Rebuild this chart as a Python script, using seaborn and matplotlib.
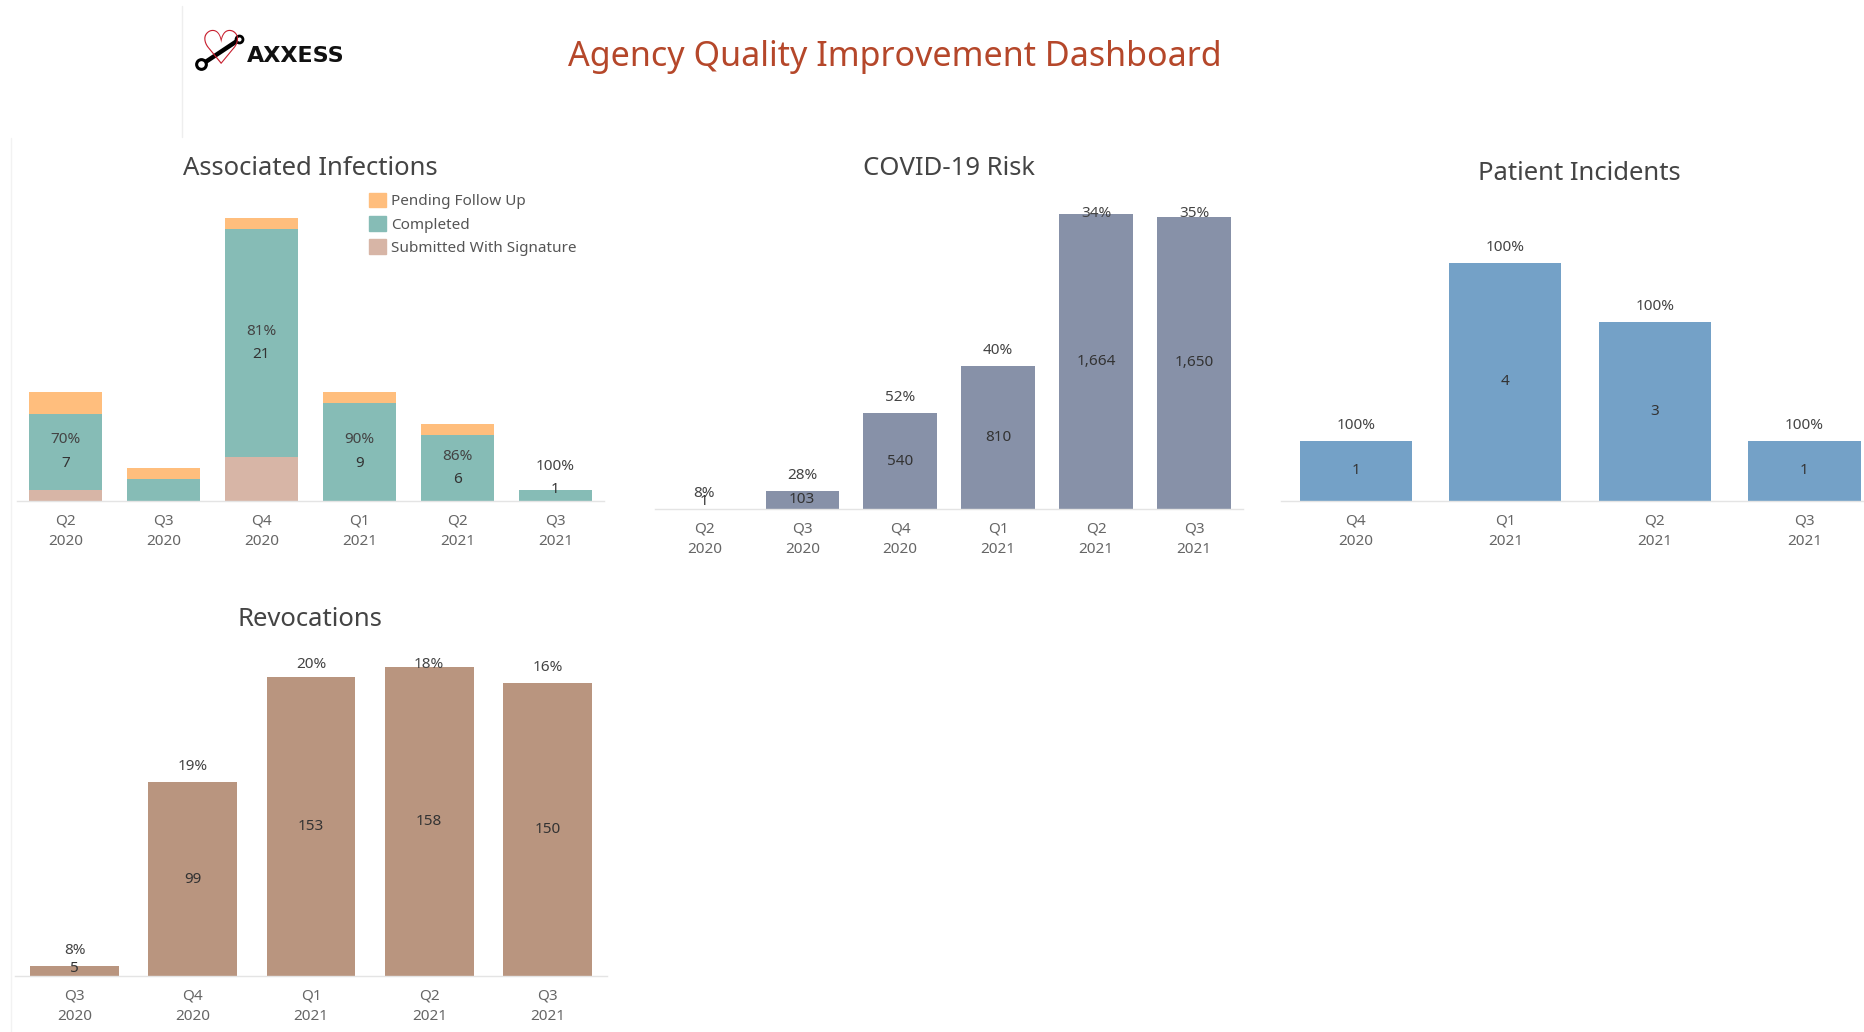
import matplotlib
matplotlib.use("Agg")
import matplotlib.pyplot as plt
from matplotlib.patches import Patch
from matplotlib.lines import Line2D
import seaborn as sns
import numpy as np

# ---------------- data ----------------
inf_quarters = ["Q2\n2020", "Q3\n2020", "Q4\n2020", "Q1\n2021", "Q2\n2021", "Q3\n2021"]
inf_submitted = [1, 0, 4, 0, 0, 0]
inf_completed = [7, 2, 21, 9, 6, 1]
inf_pending = [2, 1, 1, 1, 1, 0]
inf_pct = ["70%", "", "81%", "90%", "86%", "100%"]
inf_count_lbl = ["7", "", "21", "9", "6", "1"]

covid_quarters = ["Q2\n2020", "Q3\n2020", "Q4\n2020", "Q1\n2021", "Q2\n2021", "Q3\n2021"]
covid_values = [1, 103, 540, 810, 1664, 1650]
covid_pct = ["8%", "28%", "52%", "40%", "34%", "35%"]

pi_quarters = ["Q4\n2020", "Q1\n2021", "Q2\n2021", "Q3\n2021"]
pi_values = [1, 4, 3, 1]
pi_pct = ["100%", "100%", "100%", "100%"]

rev_quarters = ["Q3\n2020", "Q4\n2020", "Q1\n2021", "Q2\n2021", "Q3\n2021"]
rev_values = [5, 99, 153, 158, 150]
rev_pct = ["8%", "19%", "20%", "18%", "16%"]

# ---------------- style ----------------
sns.set_theme(style="white")
plt.rcParams["font.family"] = ["Noto Sans", "DejaVu Sans"]

C_PEND = "#ffbe7d"
C_COMP = "#86bcb6"
C_SUB = "#d7b5a6"
C_COVID = "#8791a8"
C_PI = "#74a1c7"
C_REV = "#b9957f"
TXT = "#333333"
TICK = "#666666"
LBL = 11

W, H = 1568.0, 868.0  # reference coordinate frame (scaled)
fig = plt.figure(figsize=(18.65, 10.32), dpi=100)
fig.patch.set_facecolor("white")


def rect(left, top, right, bottom):
    return [left / W, 1 - bottom / H, (right - left) / W, (bottom - top) / H]


def style_axis(ax, n):
    for s in ["top", "right", "left"]:
        ax.spines[s].set_visible(False)
    ax.spines["bottom"].set_color("#e4e4e4")
    ax.spines["bottom"].set_linewidth(1.0)
    ax.set_yticks([])
    ax.set_xlabel("")
    ax.set_ylabel("")
    ax.set_xlim(-0.5, n - 0.5)
    ax.set_xticks(np.arange(n) - 0.5, minor=True)
    ax.tick_params(axis="x", which="major", length=0, pad=9, labelsize=11,
                   labelcolor=TICK)
    ax.tick_params(axis="x", which="minor", length=5, color="#ececec", width=0.8)
    for lab in ax.get_xticklabels():
        lab.set_linespacing(1.5)
    ax.set_facecolor("none")


def pct_labels(ax, vals, pcts, ymax, axh):
    ppu = axh / ymax
    pad = 13.0 / ppu
    cap = ymax - 7.5 / ppu
    for i, (v, p) in enumerate(zip(vals, pcts)):
        ax.text(i, min(v + pad, cap), p, ha="center", va="center",
                fontsize=LBL, color="#444444")


def count_labels(ax, vals, ymax, axh, fmt="{:,}"):
    ppu = axh / ymax
    lo = 6.0 / ppu
    for i, v in enumerate(vals):
        ax.text(i, max(v / 2.0, lo), fmt.format(v), ha="center", va="center",
                fontsize=LBL, color=TXT)


# ---------------- header ----------------
fig.text(752 / W, 1 - 48 / H, "Agency Quality Improvement Dashboard",
         ha="center", va="center", fontsize=24.5, color="#b5472a")
fig.text(186 / W, 1 - 43 / H, "\u2661", ha="center", va="center", fontsize=34,
         color="#c8202f", family=["DejaVu Sans"], fontweight="bold")
fig.add_artist(Line2D([170 / W, 200 / W], [1 - 54 / H, 1 - 34 / H],
                      color="black", lw=3.2, solid_capstyle="round"))
fig.add_artist(Line2D([169 / W], [1 - 54 / H], marker="o", ms=7, mfc="white",
                      mec="black", mew=2.2, ls="none"))
fig.add_artist(Line2D([201 / W], [1 - 33 / H], marker="o", ms=5, mfc="white",
                      mec="black", mew=2, ls="none"))
fig.text(249 / W, 1 - 47 / H, "AXXESS", ha="center", va="center",
         fontsize=16, color="#111111", family=["DejaVu Sans"],
         fontweight="bold")
fig.add_artist(Line2D([153 / W, 153 / W], [1 - 5 / H, 1 - 115 / H],
                      color="#eeeeee", lw=1))
fig.add_artist(Line2D([9 / W, 9 / W], [1 - 116 / H, 0], color="#f2f2f2", lw=1))

# ---------------- Associated Infections ----------------
r = (14, 165, 508, 421)
ax1 = fig.add_axes(rect(*r))
ymax1 = 28
sub = np.array(inf_submitted)
comp = np.array(inf_completed)
pend = np.array(inf_pending)
sns.barplot(x=inf_quarters, y=sub + comp + pend, color=C_PEND, width=0.75,
            saturation=1, ax=ax1, linewidth=0)
sns.barplot(x=inf_quarters, y=sub + comp, color=C_COMP, width=0.75,
            saturation=1, ax=ax1, linewidth=0)
sns.barplot(x=inf_quarters, y=sub, color=C_SUB, width=0.75,
            saturation=1, ax=ax1, linewidth=0)
ax1.set_ylim(0, ymax1)
style_axis(ax1, len(inf_quarters))
axh = r[3] - r[1]
ppu = axh / ymax1
for i in range(len(inf_quarters)):
    if not inf_pct[i]:
        continue
    mid = max(sub[i] + comp[i] / 2.0, 19.0 / ppu)
    ax1.text(i, mid + 10.0 / ppu, inf_pct[i], ha="center", va="center",
             fontsize=LBL, color="#444444")
    ax1.text(i, mid - 10.0 / ppu, inf_count_lbl[i], ha="center", va="center",
             fontsize=LBL, color=TXT)
fig.text(261 / W, 1 - 142 / H, "Associated Infections", ha="center", va="center",
         fontsize=18.5, color="#444444")
handles = [Patch(color=C_PEND, label="Pending Follow Up"),
           Patch(color=C_COMP, label="Completed"),
           Patch(color=C_SUB, label="Submitted With Signature")]
fig.legend(handles=handles, loc="upper left",
           bbox_to_anchor=(310 / W, 1 - 162 / H), frameon=False, fontsize=11,
           handlelength=1.1, handleheight=1.1, handletextpad=0.35,
           labelspacing=0.45, borderpad=0, borderaxespad=0, labelcolor="#555555")

# ---------------- COVID-19 Risk ----------------
r = (551, 172, 1045, 428)
ax2 = fig.add_axes(rect(*r))
ymax2 = 1720
sns.barplot(x=covid_quarters, y=covid_values, color=C_COVID, width=0.75,
            saturation=1, ax=ax2, linewidth=0)
ax2.set_ylim(0, ymax2)
style_axis(ax2, len(covid_quarters))
pct_labels(ax2, covid_values, covid_pct, ymax2, r[3] - r[1])
count_labels(ax2, covid_values, ymax2, r[3] - r[1])
fig.text(798 / W, 1 - 142 / H, "COVID-19 Risk", ha="center", va="center",
         fontsize=18.5, color="#444444")

# ---------------- Patient Incidents ----------------
r = (1077, 171, 1580, 421)
ax3 = fig.add_axes(rect(*r))
ymax3 = 5
sns.barplot(x=pi_quarters, y=pi_values, color=C_PI, width=0.75,
            saturation=1, ax=ax3, linewidth=0)
ax3.set_ylim(0, ymax3)
style_axis(ax3, len(pi_quarters))
pct_labels(ax3, pi_values, pi_pct, ymax3, r[3] - r[1])
count_labels(ax3, pi_values, ymax3, r[3] - r[1])
fig.text(1328 / W, 1 - 146 / H, "Patient Incidents", ha="center", va="center",
         fontsize=18.5, color="#444444")

# ---------------- Revocations ----------------
r = (13, 551, 510, 821)
ax4 = fig.add_axes(rect(*r))
ymax4 = 164
sns.barplot(x=rev_quarters, y=rev_values, color=C_REV, width=0.75,
            saturation=1, ax=ax4, linewidth=0)
ax4.set_ylim(0, ymax4)
style_axis(ax4, len(rev_quarters))
pct_labels(ax4, rev_values, rev_pct, ymax4, r[3] - r[1])
count_labels(ax4, rev_values, ymax4, r[3] - r[1])
fig.text(261 / W, 1 - 521 / H, "Revocations", ha="center", va="center",
         fontsize=18.5, color="#444444")

fig.savefig("out.png", dpi=100, facecolor="white")
